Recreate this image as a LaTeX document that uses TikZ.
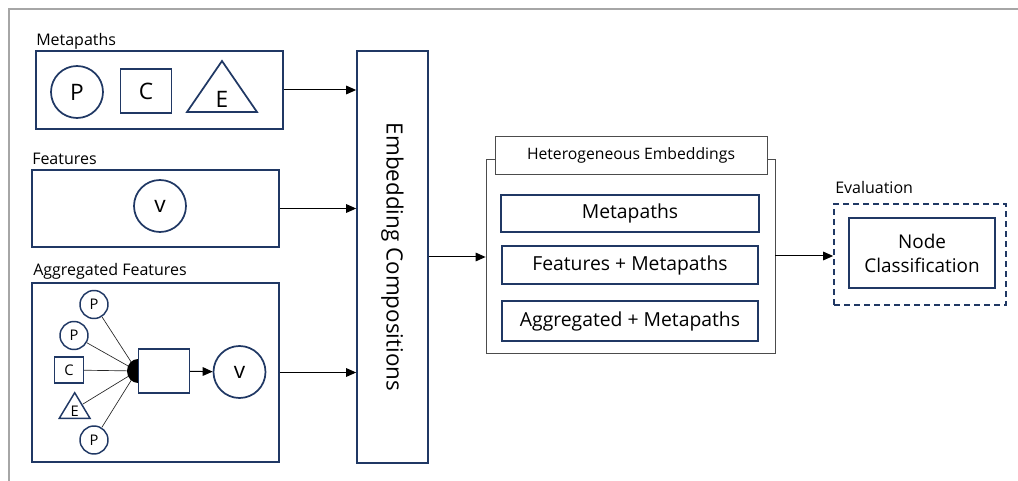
\documentclass[tikz,border=0pt]{standalone}
\usepackage{fontspec}
\setmainfont{Open Sans}
\usetikzlibrary{arrows.meta,fit}
\definecolor{navy}{HTML}{203864}

\begin{document}
\begin{tikzpicture}[x=0.75pt,y=-0.75pt, anno/.style = {line width=0.75pt,-{Triangle[length=7.5pt, width=6.5pt]}}]
    \useasboundingbox (0,0) rectangle (1018,481);
    \draw [line width=1.5pt, gray!70] (9,481) -- (9,9) -- (1018,9);
    \tikzstyle{box}=[draw=navy, line width=1.3pt, inner sep=0pt]
    \tikzstyle{o}=[circle,draw=navy,line width=1.3pt,inner sep=0pt,minimum size=39pt,font=\fontsize{17}{20}\selectfont]
    \tikzstyle{os}=[circle,draw=navy,line width=1.1pt,inner sep=0pt,minimum size=21pt,font=\fontsize{11}{13}\selectfont]
    \tikzstyle{lbl}=[anchor=base west,inner sep=0pt,font=\fontsize{12}{14}\selectfont]
    \tikzstyle{hbox}=[box, minimum width=194pt, minimum height=28pt, font=\fontsize{14.5}{17}\selectfont]
    \tikzstyle{spoke}=[line width=0.5pt, gray!30!black]

    \node[lbl] (mplbl) at (36,45.5) {Metapaths};
    \node[box, fit={(36,51) (283,129)}] (mp) {};
    \node[o] (p) at (77,92) {P};
    \node[box, minimum width=38.25pt, minimum height=33.5pt, font=\fontsize{17}{20}\selectfont] (c) at (146,91) {C};
    \draw [navy, line width=1.3pt] (222,61) -- (257,112) -- (187,112) -- cycle;
    \node[font=\fontsize{17}{20}\selectfont, inner sep=0pt] (e) at (222,99) {E};

    \node[lbl] (featlbl) at (32,164.3) {Features};
    \node[box, fit={(32,170) (279,247)}] (feat) {};
    \node[o] (v) at (160,206) {v};

    \node[lbl] (agglbl) at (33,276) {Aggregated Features};
    \node[box, fit={(32,283) (279,462)}] (agg) {};
    \node[os] (p1) at (94,304.5) {P};
    \node[os] (p2) at (74,335.5) {P};
    \node[box, line width=1.1pt, minimum width=21.75pt, minimum height=19.5pt, font=\fontsize{11}{13}\selectfont] (c2) at (69,370) {C};
    \draw [navy, line width=1.1pt] (74.7,392.7) -- (90,418.3) -- (59.3,418.3) -- cycle;
    \node[font=\fontsize{11}{13}\selectfont, inner sep=0pt] (e2) at (74.7,411) {E};
    \coordinate (e2r) at (83,404);
    \node[os] (p3) at (94,440) {P};
    \coordinate (hub) at (137,371);
    \foreach \s in {p1,p2,c2,e2r,p3}
        \draw [spoke] (\s) -- (hub);
    \fill (138,359) arc [start angle=270, end angle=90, x radius=11, y radius=12] -- cycle;
    \node[box, line width=1.1pt, minimum width=38.25pt, minimum height=33pt] (sq) at (164,371) {};
    \node[o] (v2) at (239.5,372) {v};
    \draw [anno] (sq) -- (v2);

    \node[box, fit={(357,51) (428,463)}] (emb) {};
    \node[rotate=-90, font=\fontsize{16.8}{20}\selectfont] (embtxt) at (emb.center) {Embedding Compositions};

    \draw [anno] (mp.east) -- (mp.east -| emb.west);
    \draw [anno] (feat.east) -- (feat.east -| emb.west);
    \draw [anno] (agg.east) -- (agg.east -| emb.west);

    \node[draw=gray!60!black, line width=0.6pt, inner sep=0pt, fit={(486,159) (775,353)}] (het) {};
    \node[draw=gray!60!black, line width=0.6pt, fill=white, minimum width=204pt, minimum height=28.5pt, font=\fontsize{11.8}{14}\selectfont] (hetlbl) at (631,155) {Heterogeneous Embeddings};
    \node[hbox] (hm) at (630,213.5) {Metapaths};
    \node[hbox, minimum width=192pt] (hfm) at (630,265) {Features + Metapaths};
    \node[hbox, minimum width=192pt, minimum height=30pt] (ham) at (630,321) {Aggregated + Metapaths};
    \draw [anno] (emb.east) -- (emb.east -| het.west);

    \node[lbl] (evallbl) at (835,194) {Evaluation};
    \node[draw=navy, line width=1.3pt, dash pattern=on 4.5pt off 3pt, inner sep=0pt, fit={(834,204) (1006,305)}] (eval) {};
    \node[box, minimum width=109.5pt, minimum height=52.5pt, align=center, font=\fontsize{14.2}{18}\selectfont] (nc) at (922,253) {Node\\Classification};
    \draw [anno] (het.east) -- (het.east -| eval.west);
\end{tikzpicture}
\end{document}
